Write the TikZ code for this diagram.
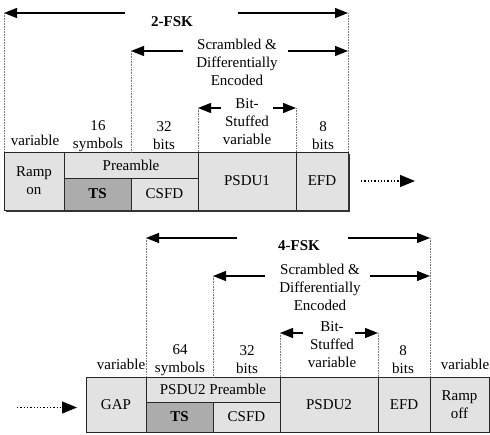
\documentclass[tikz,border=0pt]{standalone}
\usepackage{fontspec}
\setmainfont{Liberation Serif}
\usepackage{xcolor}
\definecolor{fieldgray}{RGB}{226,226,226}
\definecolor{tsgray}{RGB}{172,172,172}
\definecolor{guidegray}{RGB}{120,120,120}
\usepackage{tikz}
\usetikzlibrary{arrows.meta}

\tikzset{
  fieldbox/.style={draw=black!85, line width=0.9pt, fill=fieldgray, align=center},
  tsbox/.style={fieldbox, fill=tsgray, font=\fontsize{15}{18}\selectfont\bfseries},
  span/.style={-{Triangle[length=13pt,width=10pt]}, line width=1.3pt},
  guide/.style={densely dotted, line width=0.6pt, guidegray},
  moreline/.style={dotted, line width=1.3pt, -{Triangle[length=15pt,width=12pt]}},
  shadowline/.style={line width=2.4pt, black!80},
}

\begin{document}
\begin{tikzpicture}[x=1pt, y=-1pt, every node/.style={font=\fontsize{15}{18}\selectfont, inner sep=0pt, outer sep=0pt, align=center}]
  \useasboundingbox (0,0) rectangle (490,434);

  % 2-FSK frame
  \node[fieldbox, minimum width=60pt, minimum height=58pt] (rampon) at (34,181) {Ramp\\on};
  \node[fieldbox, minimum width=134pt, minimum height=26pt] (pre) at (131,165) {Preamble};
  \node[tsbox, minimum width=67pt, minimum height=32pt] (ts) at (97.5,194) {TS};
  \node[fieldbox, minimum width=67pt, minimum height=32pt] (csfd) at (164.5,194) {CSFD};
  \node[fieldbox, minimum width=98pt, minimum height=58pt] (psdu1) at (247,181) {PSDU1};
  \node[fieldbox, minimum width=52pt, minimum height=58pt] (efd) at (322,181) {EFD};
  \draw[shadowline] ([shift={(1.5,1.2)}]rampon.south west) -- ([shift={(1.2,1.2)}]efd.south east) -- ([shift={(1.2,1.5)}]efd.north east);

  \node (lvar) at (35,140) {variable};
  \node (l16) at (98,136) {16\\symbols};
  \node (l32) at (164,136) {32\\bits};
  \node (l8) at (323,136) {8\\bits};

  \node[font=\fontsize{15}{18}\selectfont\bfseries] (fsk) at (172,22) {2-FSK};
  \node (scr) at (237,62.5) {Scrambled \&\\Differentially\\Encoded};
  \node (bit) at (247,121.5) {Bit-\\Stuffed\\variable};

  \coordinate (fskL) at (rampon.north west |- 0,13);
  \coordinate (fskR) at (efd.north east |- 0,13);
  \coordinate (scrL) at (csfd.west |- 0,51);
  \coordinate (scrR) at (efd.north east |- 0,51);
  \coordinate (bitL) at (psdu1.north west |- 0,108);
  \coordinate (bitR) at (efd.north west |- 0,108);
  \draw[span] (125,13) -- (fskL);
  \draw[span] (238,13) -- (fskR);
  \draw[span] (183,51) -- (scrL);
  \draw[span] (288,51) -- (scrR);
  \draw[span] (221,108) -- (bitL);
  \draw[span] (273,108) -- (bitR);
  \draw[guide] (fskL) -- (rampon.north west);
  \draw[guide] (fskR) -- (efd.north east);
  \draw[guide] (scrL) -- (csfd.west |- pre.north);
  \draw[guide] (bitL) -- (psdu1.north west);
  \draw[guide] (bitR) -- (efd.north west);
  \draw[moreline] ([xshift=13pt]efd.east) -- ([xshift=67pt]efd.east);

  % 4-FSK frame
  \node[fieldbox, minimum width=60pt, minimum height=55pt] (gap) at (116,404.5) {GAP};
  \node[fieldbox, minimum width=134pt, minimum height=25pt] (pre2) at (213,389.5) {PSDU2 Preamble};
  \node[tsbox, minimum width=67pt, minimum height=30pt] (ts2) at (179.5,417) {TS};
  \node[fieldbox, minimum width=67pt, minimum height=30pt] (csfd2) at (246.5,417) {CSFD};
  \node[fieldbox, minimum width=98pt, minimum height=55pt] (psdu2) at (329,404.5) {PSDU2};
  \node[fieldbox, minimum width=52pt, minimum height=55pt] (efd2) at (404,404.5) {EFD};
  \node[fieldbox, minimum width=59pt, minimum height=55pt] (rampoff) at (459.5,404.5) {Ramp\\off};

  \node (mvar) at (121,364) {variable};
  \node (m64) at (180,360) {64\\symbols};
  \node (m32) at (247,360) {32\\bits};
  \node (m8) at (403,360) {8\\bits};
  \node (mvar2) at (465,364) {variable};

  \node[font=\fontsize{15}{18}\selectfont\bfseries] (fsk2) at (299,246) {4-FSK};
  \node (scr2) at (320,287.5) {Scrambled \&\\Differentially\\Encoded};
  \node (bit2) at (332,345) {Bit-\\Stuffed\\variable};

  \coordinate (fsk2L) at (pre2.north west |- 0,238);
  \coordinate (fsk2R) at (efd2.north east |- 0,238);
  \coordinate (scr2L) at (csfd2.west |- 0,276);
  \coordinate (scr2R) at (efd2.north east |- 0,276);
  \coordinate (bit2L) at (psdu2.north west |- 0,333);
  \coordinate (bit2R) at (efd2.north west |- 0,333);
  \draw[span] (237,238) -- (fsk2L);
  \draw[span] (348,238) -- (fsk2R);
  \draw[span] (265,276) -- (scr2L);
  \draw[span] (370,276) -- (scr2R);
  \draw[span] (303,333) -- (bit2L);
  \draw[span] (355,333) -- (bit2R);
  \draw[guide] (fsk2L) -- (pre2.north west);
  \draw[guide] (fsk2R) -- (efd2.north east);
  \draw[guide] (scr2L) -- (csfd2.west |- pre2.north);
  \draw[guide] (bit2L) -- (psdu2.north west);
  \draw[guide] (bit2R) -- (efd2.north west);
  \draw[moreline] ([shift={(-69pt,-3pt)}]gap.west) -- ([shift={(-9pt,-3pt)}]gap.west);
\end{tikzpicture}
\end{document}
